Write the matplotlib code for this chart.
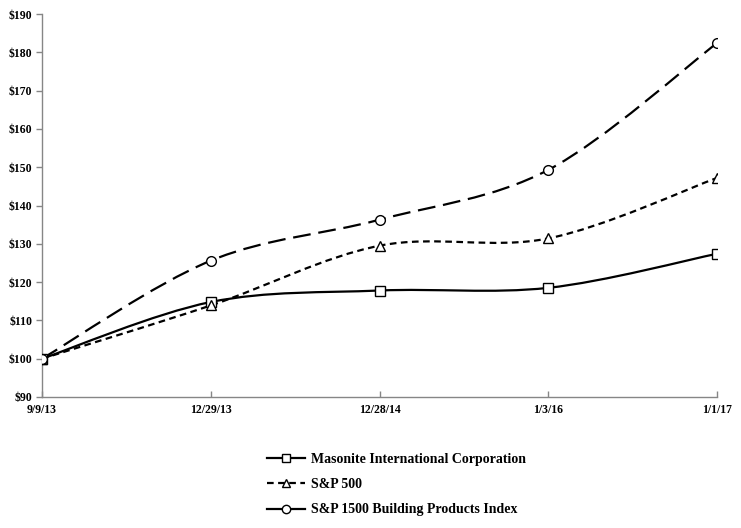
import numpy as np
import matplotlib
matplotlib.use("Agg")
import matplotlib.pyplot as plt
from matplotlib.path import Path
from matplotlib.patches import PathPatch
from matplotlib.lines import Line2D

plt.rcParams['font.family'] = ['Liberation Serif', 'DejaVu Serif']
plt.rcParams['font.weight'] = 'bold'

# Data
dates = ['9/9/13', '12/29/13', '12/28/14', '1/3/16', '1/1/17']
masonite = [100.0, 114.8, 117.8, 118.5, 127.4]
sp500 = [100.0, 113.9, 129.5, 131.4, 147.2]
building = [100.0, 125.6, 136.3, 149.3, 182.4]

labels = ['Masonite International Corporation', 'S&P 500',
          'S&P 1500 Building Products Index']
markers = ['s', '^', 'o']
dashes = [None, (3.0, 2.0), (8.0, 3.5)]


def smooth_path(xs, ys):
    # Excel-style smoothed line: cubic Bezier segments through the points
    pts = np.column_stack([xs, ys]).astype(float)
    n = len(pts)
    verts = [pts[0]]
    codes = [Path.MOVETO]
    for i in range(n - 1):
        p0 = pts[max(i - 1, 0)]
        p1 = pts[i]
        p2 = pts[i + 1]
        p3 = pts[min(i + 2, n - 1)]
        c1 = p1 + (p2 - p0) / 6.0
        c2 = p2 - (p3 - p1) / 6.0
        verts += [c1, c2, p2]
        codes += [Path.CURVE4] * 3
    return Path(verts, codes)


fig = plt.figure(figsize=(7.41, 5.28), dpi=100)
ax = fig.add_axes([42 / 741, 1 - 397 / 528, (717 - 42) / 741, (397 - 14) / 528])

x = np.arange(len(dates))
for vals, mk, ds in zip([masonite, sp500, building], markers, dashes):
    patch = PathPatch(smooth_path(x, vals), facecolor='none', edgecolor='black',
                      linewidth=1.6, capstyle='butt', zorder=2)
    if ds is not None:
        patch.set_linestyle((0, ds))
    ax.add_patch(patch)
    ax.plot(x, vals, linestyle='none', marker=mk, markersize=7,
            markerfacecolor='white', markeredgecolor='black',
            markeredgewidth=1.0, zorder=3)

ax.set_xlim(0, len(dates) - 1)
ax.set_ylim(90, 190)
ax.set_yticks(np.arange(90, 191, 10))
ax.set_yticklabels(['$%d' % v for v in range(90, 191, 10)])
ax.set_xticks(x)
ax.set_xticklabels(dates)

for s in ['top', 'right']:
    ax.spines[s].set_visible(False)
for s in ['left', 'bottom']:
    ax.spines[s].set_color('#868686')
    ax.spines[s].set_linewidth(1.0)
ax.tick_params(axis='both', width=1.0, color='#868686', labelsize=8.5)
ax.tick_params(axis='y', direction='out', length=4, pad=3)
ax.tick_params(axis='x', direction='in', length=4, pad=5)
for lab in ax.get_xticklabels() + ax.get_yticklabels():
    lab.set_fontweight('bold')
ax.patch.set_visible(False)

handles = [
    Line2D([], [], color='black', linewidth=1.6, marker='s', markersize=6,
           markerfacecolor='white', markeredgewidth=1.0),
    Line2D([], [], color='black', linewidth=1.6, linestyle=(0, (3.0, 2.0)),
           marker='^', markersize=6, markerfacecolor='white', markeredgewidth=1.0),
    Line2D([], [], color='black', linewidth=1.6, marker='o', markersize=6,
           markerfacecolor='white', markeredgewidth=1.0),
]
fig.legend(handles, labels, loc='upper left', bbox_to_anchor=(255 / 741, 1 - 440 / 528),
           frameon=False, handlelength=2.7, handletextpad=0.45, labelspacing=0.9,
           prop={'family': 'Liberation Serif', 'weight': 'bold', 'size': 10})

fig.savefig('out.png', dpi=100)
